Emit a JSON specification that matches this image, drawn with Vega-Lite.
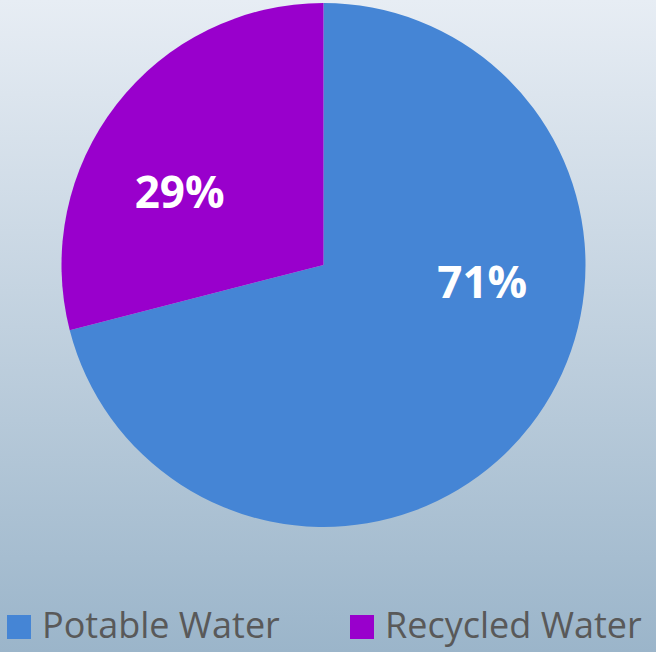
{
  "$schema": "https://vega.github.io/schema/vega-lite/v6.json",
  "width": 656,
  "height": 652,
  "autosize": {"type": "fit", "contains": "padding"},
  "padding": 0,
  "background": "#9DB6CB",
  "config": {
    "view": {"stroke": null},
    "font": "Open Sans"
  },
  "data": {
    "values": [
      {"category": "Potable Water", "value": 71, "label": "71%", "order": 1},
      {"category": "Recycled Water", "value": 29, "label": "29%", "order": 2}
    ]
  },
  "layer": [
    {
      "mark": {
        "type": "rect",
        "color": {
          "gradient": "linear",
          "x1": 0, "y1": 0, "x2": 0, "y2": 1,
          "stops": [
            {"offset": 0, "color": "#E7EDF4"},
            {"offset": 1, "color": "#9BB5CA"}
          ]
        }
      },
      "encoding": {}
    },
    {
      "mark": {"type": "arc", "outerRadius": 262, "x": 323.5, "y": 265},
      "encoding": {
        "theta": {"field": "value", "type": "quantitative", "stack": true},
        "order": {"field": "order", "type": "ordinal"},
        "color": {
          "field": "category",
          "type": "nominal",
          "scale": {"domain": ["Potable Water", "Recycled Water"], "range": ["#4585D5", "#9900CC"]},
          "legend": {
            "title": null,
            "orient": "none",
            "direction": "horizontal",
            "legendX": 1,
            "legendY": 609,
            "padding": 0,
            "symbolType": "square",
            "symbolSize": 576,
            "symbolStrokeWidth": 0,
            "labelFontSize": 36,
            "labelColor": "#595959",
            "labelOffset": 5,
            "labelLimit": 400,
            "columnPadding": 64
          }
        }
      }
    },
    {
      "mark": {"type": "text", "radius": 160, "x": 323.5, "y": 265, "fontSize": 44, "fontWeight": "bold", "color": "white", "align": "center", "baseline": "middle"},
      "encoding": {
        "theta": {"field": "value", "type": "quantitative", "stack": true, "scale": {"range": [-0.764, 6.171]}},
        "order": {"field": "order", "type": "ordinal"},
        "text": {"field": "label", "type": "nominal"}
      }
    }
  ],
  "resolve": {"scale": {"theta": "independent"}}
}
